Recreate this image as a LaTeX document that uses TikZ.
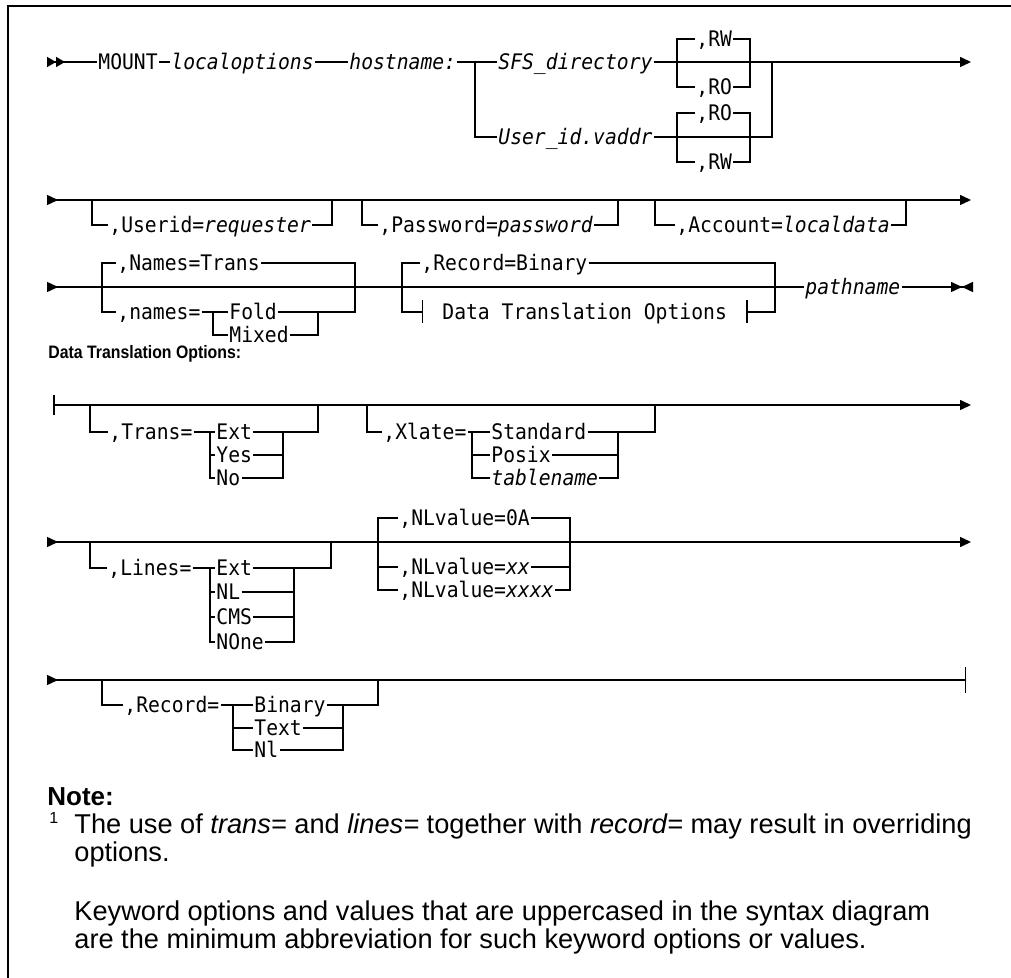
\documentclass[tikz,border=0pt]{standalone}
\usepackage{fontspec}
\setmonofont[FakeStretch=0.92]{DejaVu Sans Mono}
\setsansfont{Liberation Sans}
\newfontfamily\titlefont[FakeStretch=0.88]{Liberation Sans}
\usetikzlibrary{arrows.meta}

\begin{document}
\begin{tikzpicture}[
    x=0.5pt, y=-0.5pt,
    >={Triangle[length=5.5pt, width=5pt]},
    rail/.style={line width=0.75pt},
    kw/.style={anchor=west, font=\ttfamily\fontsize{10.7}{12}\selectfont, inner xsep=0.5pt, inner ysep=0pt, text height=7.8pt, text depth=0pt},
    var/.style={kw, font=\ttfamily\itshape\fontsize{10.7}{12}\selectfont},
    frag/.style={kw, inner xsep=9.5pt},
    title/.style={anchor=west, font=\titlefont\bfseries\fontsize{9}{10}\selectfont, inner sep=0pt},
    note/.style={anchor=base west, font=\sffamily\fontsize{13.6}{15}\selectfont, inner sep=0pt},
]
\useasboundingbox (0,0) rectangle (1011,978);

% Draw the frame
\draw[line width=1pt] (8,978) -- (8,6) -- (1011,6);

% Draw the first line
\coordinate (s1) at (47,62);
\coordinate (fork1) at (475,62);
\coordinate (a1) at (677,62);
\coordinate (b1) at (750,62);
\coordinate (a2) at (677,137);
\coordinate (b2) at (750,137);
\coordinate (join1) at (772,62);
\coordinate (e1) at (971,62);
\node[kw] (mount) at (97,62) {MOUNT};
\node[var] (lopts) at (170,62) {localoptions};
\node[var] (host) at (348,62) {hostname:};
\node[var] (sfs) at (497,62) {SFS\_directory};
\node[var] (vaddr) at (497,137) {User\_id.vaddr};
\node[kw] (rw1) at (695,39) {,RW};
\node[kw] (ro1) at (695,87) {,RO};
\node[kw] (ro2) at (695,113) {,RO};
\node[kw] (rw2) at (695,162) {,RW};
\draw[rail, {>[length=4.5pt]>[length=4.5pt]}-] (s1) -- (mount);
\draw[rail] (mount) -- (lopts);
\draw[rail] (lopts) -- (host);
\draw[rail] (host) -- (sfs);
\draw[rail, ->] (sfs) -- (e1);
\draw[rail] (fork1) |- (vaddr);
\draw[rail] (vaddr) -| (join1);
\draw[rail] (a1) |- (rw1);
\draw[rail] (a1) |- (ro1);
\draw[rail] (rw1) -| (b1);
\draw[rail] (ro1) -| (b1);
\draw[rail] (a2) |- (ro2);
\draw[rail] (a2) |- (rw2);
\draw[rail] (ro2) -| (b2);
\draw[rail] (rw2) -| (b2);

% Draw the second line
\coordinate (s2) at (47,200);
\coordinate (e2) at (971,200);
\coordinate (a3) at (92,200);
\coordinate (b3) at (332,200);
\coordinate (a4) at (362,200);
\coordinate (b4) at (618,200);
\coordinate (a5) at (655,200);
\coordinate (b5) at (906,200);
\node[kw] (usr) at (108,225) {,Userid=\textit{requester}};
\node[kw] (pwd) at (378,225) {,Password=\textit{password}};
\node[kw] (acct) at (675,225) {,Account=\textit{localdata}};
\draw[rail, >->] (s2) -- (e2);
\draw[rail] (a3) |- (usr);
\draw[rail] (usr) -| (b3);
\draw[rail] (a4) |- (pwd);
\draw[rail] (pwd) -| (b4);
\draw[rail] (a5) |- (acct);
\draw[rail] (acct) -| (b5);

% Draw the third line
\coordinate (s3) at (47,287);
\coordinate (a6) at (102,287);
\coordinate (b6) at (355,287);
\coordinate (fk6) at (213,312);
\coordinate (jn6) at (318,312);
\coordinate (a7) at (402,287);
\coordinate (b7) at (775,287);
\coordinate (e3) at (973,287);
\node[kw] (ntrans) at (116,263) {,Names=Trans};
\node[kw] (nms) at (116,312) {,names=};
\node[kw] (fold) at (228,312) {Fold};
\node[kw] (mixed) at (228,335) {Mixed};
\node[kw] (rbin) at (420,263) {,Record=Binary};
\node[frag] (dto) at (423,312) {Data Translation Options};
\node[var] (pth) at (804,287) {pathname};
\draw[rail, >-] (s3) -- (pth);
\draw[rail, -{Triangle[length=5.5pt, width=5pt] Triangle[length=5.5pt, width=5pt, reversed]}] (pth) -- (e3);
\draw[rail] (a6) |- (ntrans);
\draw[rail] (ntrans) -| (b6);
\draw[rail] (a6) |- (nms);
\draw[rail] (nms) -- (fold);
\draw[rail] (fk6) |- (mixed);
\draw[rail] (fold) -| (b6);
\draw[rail] (mixed) -| (jn6);
\draw[rail] (a7) |- (rbin);
\draw[rail] (rbin) -| (b7);
\draw[rail, -{Bar[width=11.5pt]}] (a7) |- (dto);
\draw[rail, {Bar[width=11.5pt]}-] (dto) -| (b7);

% Draw the data translation options
\node[title] (dtotitle) at (48,354) {Data Translation Options:};

\coordinate (s5) at (53,405);
\coordinate (e5) at (971,405);
\coordinate (a8) at (90,405);
\coordinate (b8) at (318,405);
\coordinate (fk8) at (210,432);
\coordinate (jn8) at (283,432);
\coordinate (a9) at (367,405);
\coordinate (b9) at (655,405);
\coordinate (fk9) at (472,432);
\coordinate (jn9) at (618,432);
\node[kw] (trans) at (108,432) {,Trans=};
\node[kw] (ext1) at (215,432) {Ext};
\node[kw] (yes) at (215,455) {Yes};
\node[kw] (no) at (215,478) {No};
\node[kw] (xlate) at (382,432) {,Xlate=};
\node[kw] (std) at (490,432) {Standard};
\node[kw] (posix) at (490,455) {Posix};
\node[var] (tbl) at (490,478) {tablename};
\draw[rail, {Bar[width=10pt]}->] (s5) -- (e5);
\draw[rail] (a8) |- (trans);
\draw[rail] (trans) -- (ext1);
\draw[rail] (fk8) |- (yes);
\draw[rail] (fk8) |- (no);
\draw[rail] (ext1) -| (b8);
\draw[rail] (yes) -| (jn8);
\draw[rail] (no) -| (jn8);
\draw[rail] (a9) |- (xlate);
\draw[rail] (xlate) -- (std);
\draw[rail] (fk9) |- (posix);
\draw[rail] (fk9) |- (tbl);
\draw[rail] (std) -| (b9);
\draw[rail] (posix) -| (jn9);
\draw[rail] (tbl) -| (jn9);

\coordinate (s6) at (47,542);
\coordinate (e6) at (971,542);
\coordinate (a10) at (90,542);
\coordinate (b10) at (331,542);
\coordinate (fk10) at (210,568);
\coordinate (jn10) at (294,568);
\coordinate (a11) at (378,542);
\coordinate (b11) at (570,542);
\node[kw] (lines) at (107,568) {,Lines=};
\node[kw] (ext2) at (215,568) {Ext};
\node[kw] (nl) at (215,592) {NL};
\node[kw] (cms) at (215,617) {CMS};
\node[kw] (none) at (215,642) {NOne};
\node[kw] (nl0a) at (398,518) {,NLvalue=0A};
\node[kw] (nlxx) at (398,567) {,NLvalue=\textit{xx}};
\node[kw] (nlxxxx) at (398,590) {,NLvalue=\textit{xxxx}};
\draw[rail, >->] (s6) -- (e6);
\draw[rail] (a10) |- (lines);
\draw[rail] (lines) -- (ext2);
\draw[rail] (fk10) |- (nl);
\draw[rail] (fk10) |- (cms);
\draw[rail] (fk10) |- (none);
\draw[rail] (ext2) -| (b10);
\draw[rail] (nl) -| (jn10);
\draw[rail] (cms) -| (jn10);
\draw[rail] (none) -| (jn10);
\draw[rail] (a11) |- (nl0a);
\draw[rail] (a11) |- (nlxx);
\draw[rail] (a11) |- (nlxxxx);
\draw[rail] (nl0a) -| (b11);
\draw[rail] (nlxx) -| (b11);
\draw[rail] (nlxxxx) -| (b11);

\coordinate (s7) at (47,680);
\coordinate (e7) at (966,680);
\coordinate (a12) at (102,680);
\coordinate (b12) at (378,680);
\coordinate (fk12) at (233,705);
\coordinate (jn12) at (343,705);
\node[kw] (rec) at (123,705) {,Record=};
\node[kw] (bin) at (253,705) {Binary};
\node[kw] (txt) at (253,728) {Text};
\node[kw] (nlr) at (253,750) {Nl};
\draw[rail, >-{Bar[width=13pt]}] (s7) -- (e7);
\draw[rail] (a12) |- (rec);
\draw[rail] (rec) -- (bin);
\draw[rail] (fk12) |- (txt);
\draw[rail] (fk12) |- (nlr);
\draw[rail] (bin) -| (b12);
\draw[rail] (txt) -| (jn12);
\draw[rail] (nlr) -| (jn12);

% Draw the note
\node[note, font=\sffamily\bfseries\fontsize{13}{15}\selectfont] (nhead) at (47,805) {Note:};
\node[note, font=\sffamily\fontsize{8}{9}\selectfont] (fn) at (49,823) {1};
\node[note] (n1) at (74,833) {The use of \textit{trans=} and \textit{lines=} together with \textit{record=} may result in overriding};
\node[note] (n2) at (74,861) {options.};
\node[note] (n3) at (74,920) {Keyword options and values that are uppercased in the syntax diagram};
\node[note] (n4) at (74,948) {are the minimum abbreviation for such keyword options or values.};

\end{tikzpicture}
\end{document}
